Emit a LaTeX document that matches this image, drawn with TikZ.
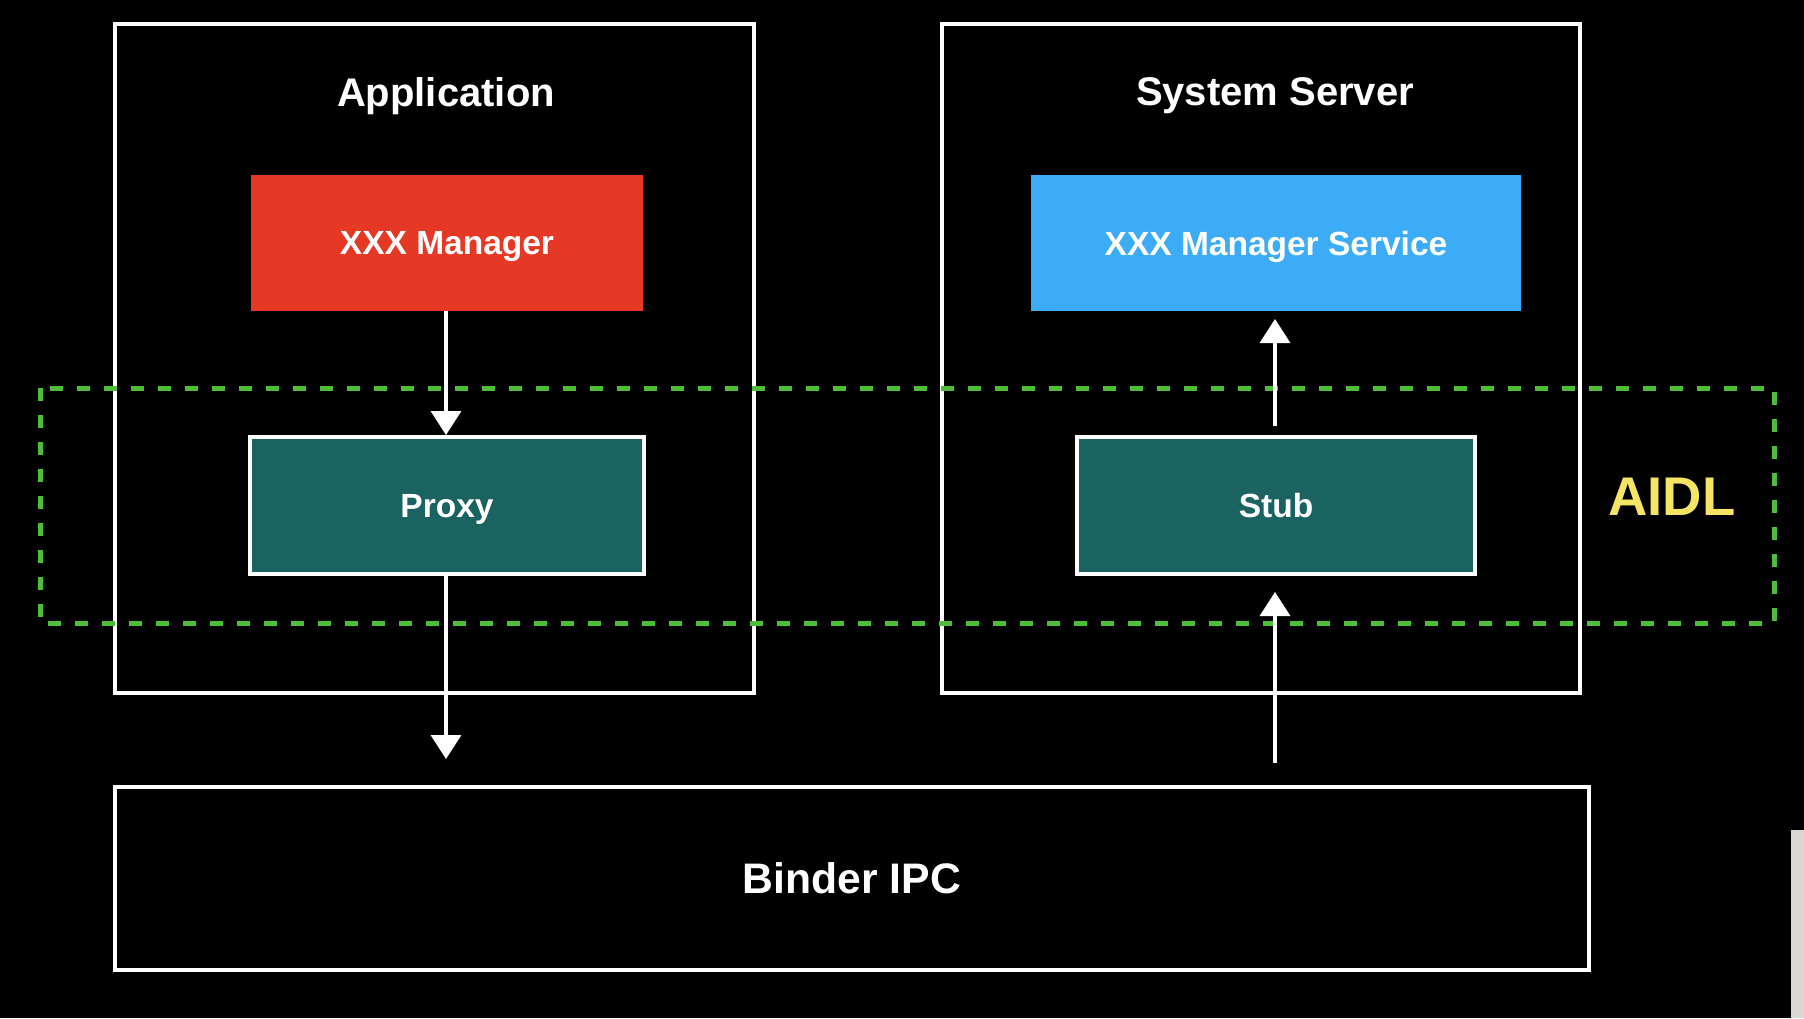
\documentclass[tikz,border=0pt]{standalone}
\usepackage{fontspec}
\setmainfont{Liberation Sans}
\usetikzlibrary{arrows.meta}
\definecolor{mgrred}{RGB}{229,57,37}
\definecolor{svcblue}{RGB}{60,172,247}
\definecolor{stubteal}{RGB}{27,99,97}
\definecolor{aidlgreen}{RGB}{78,190,58}
\definecolor{aidlyellow}{RGB}{246,228,100}
\definecolor{artgrey}{RGB}{218,216,210}
\tikzset{
  frame/.style={draw=white, line width=3.5pt, fill=none},
  titletext/.style={text=white, text depth=0pt, font=\fontsize{40}{46}\selectfont\bfseries},
  boxtext/.style={text=white, text depth=0pt, font=\fontsize{33.5}{38}\selectfont\bfseries},
  fillbox/.style={draw=none, minimum width=392pt, minimum height=136pt, inner sep=0pt, boxtext},
  aidlbox/.style={draw=white, line width=4pt, fill=stubteal, minimum width=394pt, minimum height=137pt, inner sep=0pt, boxtext},
  arr/.style={draw=white, line width=3.5pt, -{Triangle[width=30pt,length=24pt]}},
  aidlline/.style={draw=aidlgreen, line width=5pt, dash pattern=on 13pt off 14pt}
}
\begin{document}
\begin{tikzpicture}[x=1pt,y=-1pt]
\fill[black] (0,0) rectangle (1804,1018);
\useasboundingbox (0,0) rectangle (1804,1018);
% artefact at right edge
\fill[artgrey] (1791,830) rectangle (1804,1018);
% container frames
\node[frame, minimum width=639pt, minimum height=669pt, inner sep=0pt] (app) at (434.5,358.5) {};
\node[frame, minimum width=638pt, minimum height=669pt, inner sep=0pt] (sys) at (1261,358.5) {};
\node[frame, minimum width=1474pt, minimum height=183pt, inner sep=0pt, text=white, text depth=0pt, font=\fontsize{42.7}{48}\selectfont\bfseries] (binder) at (852,878.5) {Binder IPC};
% titles
\node[titletext] (apptitle) at (446,92) {Application};
\node[titletext] (systitle) at (1275,92) {System Server};
% component boxes
\node[fillbox, fill=mgrred] (mgr) at (447,243) {XXX Manager};
\node[fillbox, fill=svcblue, minimum width=490pt] (svc) at (1276,243) {XXX Manager Service};
\node[aidlbox] (proxy) at (447,505.5) {Proxy};
\node[aidlbox, minimum width=398pt] (stub) at (1276,505.5) {Stub};
% AIDL dashed region
\draw[aidlline] (40,388) rectangle (1774,623);
\node[text=aidlyellow, text depth=0pt, font=\fontsize{54.5}{60}\selectfont\bfseries] (aidl) at (1672,497) {AIDL};
% connectors
\coordinate (proxyout) at (446,759);
\coordinate (binderup) at (1275,763);
\coordinate (stubin) at (1275,592);
\coordinate (stubout) at (1275,426);
\coordinate (svcin) at (1275,319);
\draw[arr] (446,311) -- (proxy.north -| 446,0);
\draw[arr] (proxy.south -| 446,0) -- (proxyout);
\draw[arr] (binderup) -- (stubin);
\draw[arr] (stubout) -- (svcin);
\end{tikzpicture}
\end{document}
